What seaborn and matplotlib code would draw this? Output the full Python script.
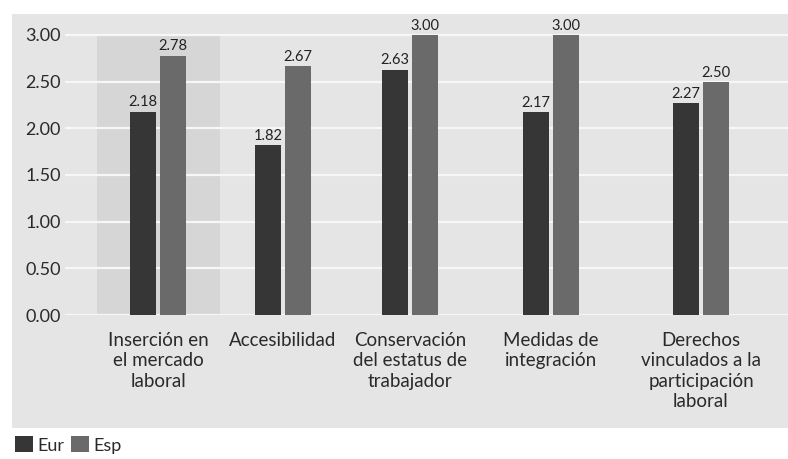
import matplotlib
matplotlib.use("Agg")
import matplotlib.pyplot as plt
from matplotlib.patches import Rectangle
import seaborn as sns
import pandas as pd

categories = [
    "Inserción en\nel mercado\nlaboral",
    "Accesibilidad",
    "Conservación\ndel estatus de\ntrabajador",
    "Medidas de\nintegración",
    "Derechos\nvinculados a la\nparticipación\nlaboral",
]
eur = [2.18, 1.82, 2.63, 2.17, 2.27]
esp = [2.78, 2.67, 3.00, 3.00, 2.50]
series = ["Eur", "Esp"]
yticks = [0.0, 0.5, 1.0, 1.5, 2.0, 2.5, 3.0]

# layout: horizontal slot of each category group (the source spaces them unevenly)
slots = [0.0, 1.0, 2.016, 3.144, 4.344]

df = pd.DataFrame({
    "pos": slots * 2,
    "val": eur + esp,
    "serie": [series[0]] * len(eur) + [series[1]] * len(esp),
})

sns.set_theme(style="white")
plt.rcParams["font.family"] = ["Lato", "DejaVu Sans"]

W, H = 788, 459
fig = plt.figure(figsize=(W / 100, H / 100), dpi=100)
fig.patch.set_facecolor("white")

# gray panel behind chart
fig.add_artist(Rectangle((12 / W, 1 - 428 / H), (W - 12) / W, (428 - 14) / H,
                         transform=fig.transFigure, facecolor="#e5e5e5",
                         edgecolor="none", zorder=-1))

ax = fig.add_axes([65 / W, 1 - 315 / H, (788 - 65) / W, (315 - 30.3) / H])
ax.patch.set_alpha(0)

# highlight band behind first category
ax.add_patch(Rectangle((-0.488, 0), 0.984, 3.0, facecolor="#d6d6d6",
                       edgecolor="none", zorder=0.2))

sns.barplot(data=df, x="pos", y="val", hue="serie", native_scale=True,
            palette=["#363636", "#6a6a6a"], width=0.48, gap=0.13,
            ax=ax, zorder=2, linewidth=0)

for cont in ax.containers:
    ax.bar_label(cont, fmt="%.2f", padding=1.5, fontsize=10.5,
                 color="#222222")

ax.set_xlim(-0.744, 5.04)
ax.set_ylim(0, 3.05)
ax.set_yticks(yticks)
ax.set_yticklabels([f"{v:.2f}" for v in yticks])
ax.set_xticks(slots)
ax.set_xticklabels(categories)
ax.grid(axis="y", color="#f7f7f7", linewidth=1.6)
ax.grid(axis="x", visible=False)
ax.set_axisbelow(True)
for gl in ax.get_ygridlines():
    gl.set_zorder(0.5)
for s in ax.spines.values():
    s.set_visible(False)
ax.set_xlabel("")
ax.set_ylabel("")
ax.tick_params(axis="y", length=0, pad=3, labelsize=13, labelcolor="#2a2a2a")
ax.tick_params(axis="x", length=0, pad=12, labelsize=13.5, labelcolor="#2a2a2a")
for t in ax.get_xticklabels():
    t.set_linespacing(1.25)

sns.move_legend(ax, "lower left", bbox_to_anchor=(10 / W, 0.0),
                bbox_transform=fig.transFigure, ncol=2, frameon=False,
                title=None, fontsize=13, handlelength=1.0, handleheight=1.0,
                handletextpad=0.2, columnspacing=0.4, borderaxespad=0.1,
                borderpad=0.2)
for t in ax.get_legend().get_texts():
    t.set_color("#2a2a2a")

fig.savefig("out.png", dpi=100)
